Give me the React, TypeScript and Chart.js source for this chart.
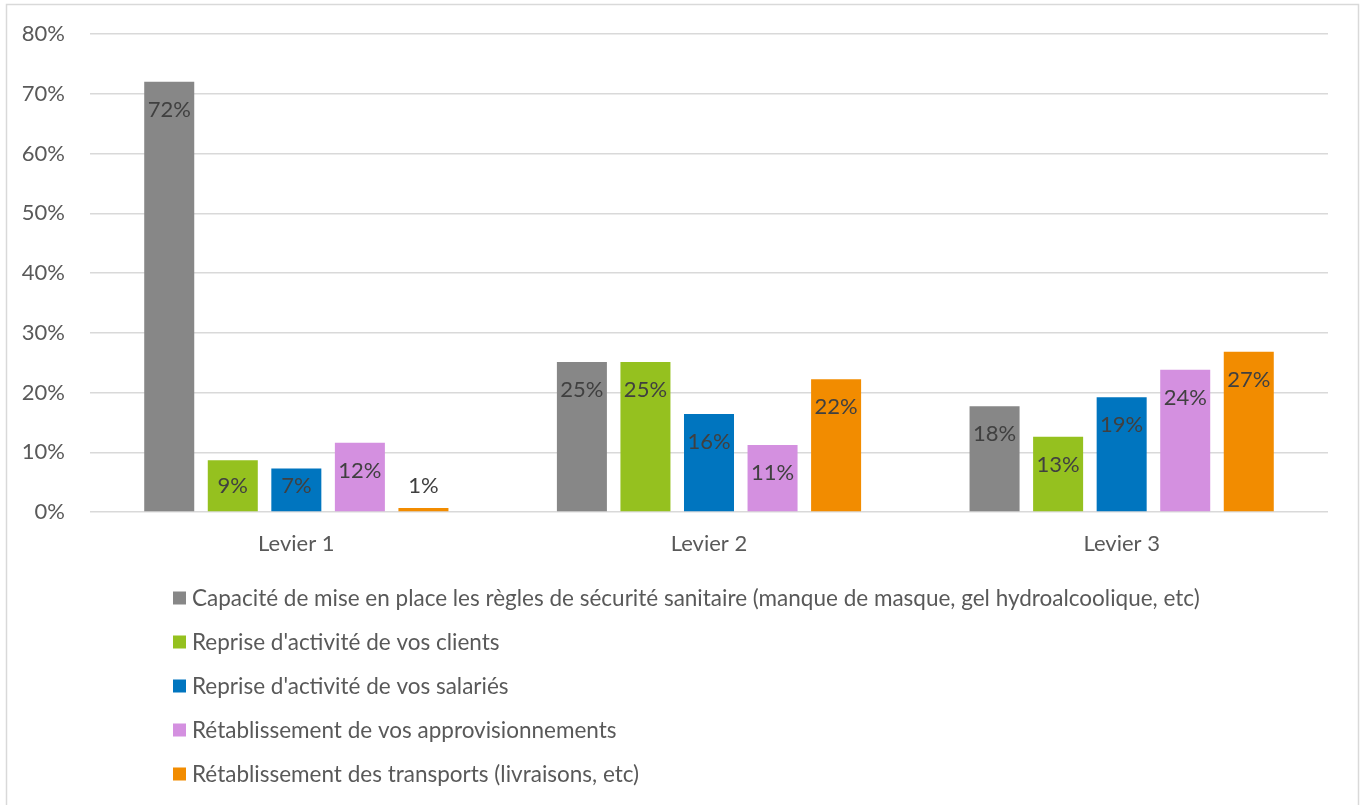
import React, { useEffect, useRef } from "react";
import { Chart, registerables } from "chart.js";

Chart.register(...registerables);

const categories = ["Levier 1", "Levier 2", "Levier 3"];
const seriesNames = [
  "Capacité de mise en place les règles de sécurité sanitaire (manque de masque, gel hydroalcoolique, etc)",
  "Reprise d'activité de vos clients",
  "Reprise d'activité de vos salariés",
  "Rétablissement de vos approvisionnements",
  "Rétablissement des transports (livraisons, etc)",
];
const capacite = [72.0, 25.1, 17.7];
const clients = [8.65, 25.1, 12.6];
const salaries = [7.3, 16.4, 19.2];
const approvisionnements = [11.6, 11.2, 23.8];
const transports = [0.67, 22.2, 26.8];
const seriesColors = ["#878787", "#95c11f", "#0075bf", "#d490e0", "#f28c00"];
const yTicks = [0, 10, 20, 30, 40, 50, 60, 70, 80];

const FONT = "Lato, 'Open Sans', sans-serif";
const FS = 22;
const LEGEND_FS = 22.5;

const W = 1365;
const H = 805;

const borderPlugin = {
  id: "frameBorder",
  beforeDraw(chart: any) {
    const ctx = chart.ctx;
    ctx.save();
    ctx.fillStyle = "#ffffff";
    ctx.fillRect(0, 0, chart.width, chart.height);
    ctx.strokeStyle = "#d9d9d9";
    ctx.lineWidth = 1.5;
    ctx.strokeRect(6.5, 4.5, 1352, 900);
    ctx.restore();
  },
};

const labelPlugin = {
  id: "barLabels",
  afterDatasetsDraw(chart: any) {
    const ctx = chart.ctx;
    ctx.save();
    ctx.font = `${FS}px ${FONT}`;
    ctx.fillStyle = "#404040";
    ctx.textAlign = "center";
    ctx.textBaseline = "middle";
    chart.data.datasets.forEach((ds: any, di: number) => {
      const meta = chart.getDatasetMeta(di);
      meta.data.forEach((el: any, i: number) => {
        const v = ds.data[i];
        const cy = Math.min(el.y + 28, el.base - 25);
        ctx.fillText(Math.round(v) + "%", el.x, cy);
      });
    });
    ctx.restore();
  },
};

const legendPlugin = {
  id: "vertLegend",
  afterDraw(chart: any) {
    const ctx = chart.ctx;
    ctx.save();
    ctx.font = `${LEGEND_FS}px ${FONT}`;
    const box = 13;
    const gap = 6;
    let maxW = 0;
    chart.data.datasets.forEach((ds: any) => {
      maxW = Math.max(maxW, ctx.measureText(ds.label).width);
    });
    const total = box + gap + maxW;
    const x0 = Math.round(686 - total / 2);
    const y0 = chart.chartArea.bottom + 86;
    ctx.textBaseline = "middle";
    ctx.textAlign = "left";
    chart.data.datasets.forEach((ds: any, di: number) => {
      const y = y0 + di * 44;
      ctx.fillStyle = ds.backgroundColor;
      ctx.fillRect(x0, y - box / 2, box, box);
      ctx.fillStyle = "#595959";
      ctx.fillText(ds.label, x0 + box + gap, y + 1);
    });
    ctx.restore();
  },
};

export default function App() {
  const ref = useRef<HTMLCanvasElement | null>(null);

  useEffect(() => {
    if (!ref.current) return;
    const seriesData = [capacite, clients, salaries, approvisionnements, transports];
    const chart = new Chart(ref.current, {
      type: "bar",
      data: {
        labels: categories,
        datasets: seriesNames.map((name, i) => ({
          label: name,
          data: seriesData[i],
          backgroundColor: seriesColors[i],
          borderWidth: 0,
          categoryPercentage: 0.77,
          barPercentage: 0.787,
        })),
      },
      options: {
        responsive: false,
        animation: false,
        devicePixelRatio: 1,
        layout: { padding: { left: 0, right: 37, top: 34, bottom: 233 } },
        plugins: {
          legend: { display: false },
          tooltip: { enabled: false },
        },
        scales: {
          x: {
            grid: { display: false, drawTicks: false },
            border: { display: false },
            ticks: {
              color: "#595959",
              font: { family: FONT, size: FS },
              padding: 19,
            },
            afterFit(scale: any) {
              scale.height = 60;
              scale.paddingLeft = 0;
              scale.paddingRight = 0;
            },
          },
          y: {
            min: 0,
            max: 80,
            afterBuildTicks(scale: any) {
              scale.ticks = yTicks.map((v) => ({ value: v }));
            },
            grid: { color: "#d9d9d9", lineWidth: 1.5, drawTicks: false },
            border: { display: false },
            ticks: {
              color: "#595959",
              font: { family: FONT, size: FS },
              padding: 25,
              callback: (v: any) => v + "%",
            },
            afterFit(scale: any) {
              scale.width = 90;
              scale.paddingTop = 0;
              scale.paddingBottom = 0;
            },
          },
        },
      },
      plugins: [borderPlugin, labelPlugin, legendPlugin],
    });
    return () => chart.destroy();
  }, []);

  return (
    <div style={{ position: "fixed", left: 0, top: 0, width: W, height: H, background: "#fff" }}>
      <canvas ref={ref} width={W} height={H} style={{ display: "block" }} />
    </div>
  );
}
